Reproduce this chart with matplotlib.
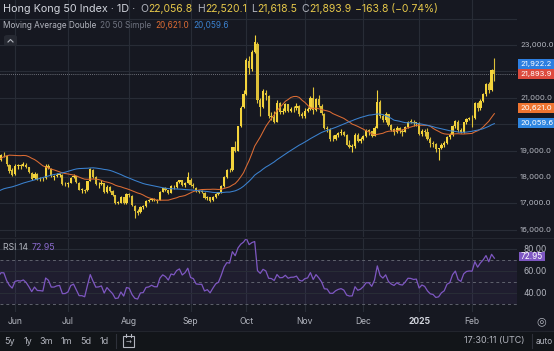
import matplotlib
matplotlib.use('Agg')
import matplotlib.pyplot as plt
import numpy as np
from matplotlib.patches import Rectangle, FancyBboxPatch
from matplotlib.lines import Line2D

W, H = 554, 351
BG = '#161821'
GRID = '#282c36'
TXT = '#b2b5be'
TXT_HI = '#d1d4dc'
YEL = '#f4d43c'
YEL_D = '#dcbf38'
HYEL = '#e6c84a'
ORANGE = '#dc6c34'
BLUE = '#3b82d0'
PURPLE = '#7e57c2'
FONT = ['Inter', 'DejaVu Sans']
plt.rcParams['font.family'] = FONT

# ------------------------------------------------------------------ data
# closes before the visible window (only feed the moving averages / RSI)
warmup_closes = [16590, 16596, 16162, 16438, 16230, 16353, 16588, 17093, 17082, 16962,
                 16721, 16738, 16529, 16543, 16863, 16499, 16474, 16618, 16393, 16541,
                 16541, 16931, 16725, 16724, 16733, 17139, 16828, 16721, 16600, 16248,
                 16249, 16386, 16511, 16829, 17201, 17285, 17651, 17746, 17763,
                 18207, 18476, 18578, 18479, 18313, 18537, 18964, 19115, 19073, 19376,
                 19553, 19636, 19220, 19195, 18868]

# (open, high, low, close)
ohlc_may = [(18870, 18900, 18560, 18609), (18650, 18880, 18600, 18827), (18830, 18960, 18760, 18821),
            (18800, 18820, 18420, 18477), (18450, 18500, 18150, 18230), (18250, 18330, 18030, 18079)]
ohlc_jun = [(18100, 18480, 18090, 18403), (18400, 18480, 18300, 18444), (18430, 18480, 18320, 18425),
            (18430, 18560, 18400, 18476), (18470, 18520, 18330, 18367), (18360, 18380, 18140, 18176),
            (18170, 18200, 17900, 17937), (17950, 18180, 17930, 18112), (18100, 18140, 17900, 17942),
            (17950, 18000, 17850, 17936), (17930, 18000, 17860, 17915), (17950, 18480, 17940, 18430),
            (18420, 18490, 18290, 18335), (18320, 18350, 18000, 18028), (18000, 18090, 17900, 18027),
            (18030, 18150, 18000, 18072), (18070, 18160, 18000, 18089), (18080, 18100, 17680, 17716),
            (17720, 17800, 17660, 17719)]
ohlc_jul = [(17720, 17820, 17640, 17769), (17780, 18000, 17760, 17979), (17990, 18100, 17950, 18028),
            (18020, 18040, 17780, 17799), (17780, 17800, 17500, 17524), (17520, 17600, 17400, 17523),
            (17520, 17560, 17410, 17471), (17500, 17850, 17480, 17832), (17850, 18330, 17840, 18293),
            (18250, 18300, 17960, 18015), (17990, 18020, 17700, 17727), (17720, 17800, 17600, 17739),
            (17750, 17900, 17700, 17778), (17760, 17780, 17380, 17417), (17430, 17680, 17400, 17635),
            (17640, 17660, 17430, 17469), (17460, 17500, 17290, 17311), (17300, 17310, 16970, 17005),
            (17010, 17100, 16960, 17021), (17030, 17280, 17020, 17238), (17230, 17240, 16980, 17002),
            (17010, 17380, 16990, 17344)]
ohlc_aug = [(17340, 17400, 17250, 17304), (17280, 17300, 16920, 16945), (16900, 16950, 16440, 16698),
            (16700, 16780, 16550, 16647), (16660, 16920, 16640, 16877), (16870, 16950, 16780, 16891),
            (16900, 17120, 16880, 17090), (17090, 17180, 17040, 17112), (17110, 17200, 17080, 17175),
            (17170, 17220, 17080, 17113), (17110, 17160, 17020, 17109), (17120, 17480, 17110, 17430),
            (17430, 17600, 17420, 17569), (17570, 17640, 17480, 17511), (17500, 17520, 17340, 17392),
            (17400, 17680, 17390, 17641), (17640, 17700, 17560, 17612), (17620, 17840, 17600, 17798),
            (17800, 17900, 17760, 17874), (17870, 17880, 17650, 17692), (17690, 17820, 17640, 17786),
            (17790, 18190, 17780, 17989)]
ohlc_sep = [(17900, 17950, 17650, 17691), (17690, 17760, 17600, 17652), (17600, 17620, 17420, 17457),
            (17460, 17520, 17380, 17444), (17450, 17500, 17380, 17444), (17400, 17420, 17150, 17196),
            (17200, 17280, 17130, 17234), (17230, 17260, 17050, 17108), (17110, 17280, 17090, 17240),
            (17240, 17400, 17220, 17369), (17370, 17450, 17330, 17422), (17420, 17680, 17400, 17660),
            (17660, 18050, 17640, 18013), (18010, 18300, 17980, 18258), (18260, 18330, 18180, 18247),
            (18250, 19150, 18240, 19129), (19150, 19350, 18950, 19000), (19000, 19950, 18980, 19924),
            (19920, 20700, 19900, 20632), (20650, 21300, 20600, 21133)]
ohlc_oct = [(21150, 22500, 21100, 22443), (22400, 22600, 21900, 22114), (22100, 22800, 22000, 22737),
            (22750, 23380, 22700, 23100), (23050, 23100, 20800, 20926), (20930, 21000, 20300, 20637),
            (20640, 21350, 20600, 21252), (21200, 21300, 20900, 21093), (21080, 21100, 20250, 20318),
            (20300, 20450, 20150, 20286), (20290, 20500, 20050, 20079), (20100, 20900, 20080, 20804),
            (20800, 20850, 20400, 20478), (20480, 20600, 20400, 20498), (20500, 20800, 20450, 20760),
            (20750, 20780, 20450, 20489), (20490, 20650, 20450, 20590), (20600, 20700, 20450, 20599),
            (20600, 20800, 20550, 20701), (20700, 20720, 20300, 20381), (20380, 20450, 20250, 20317)]
ohlc_nov = [(20320, 20600, 20250, 20506), (20500, 20650, 20450, 20567), (20570, 21050, 20550, 21006),
            (21000, 21400, 20400, 20538), (20550, 21000, 20500, 20953), (20950, 21100, 20650, 20728),
            (20700, 20750, 20350, 20426), (20400, 20420, 19800, 19846), (19850, 19950, 19700, 19823),
            (19820, 19850, 19350, 19435), (19440, 19600, 19380, 19426), (19430, 19620, 19400, 19577),
            (19580, 19700, 19500, 19663), (19660, 19800, 19600, 19705), (19700, 19750, 19550, 19601),
            (19600, 19620, 19200, 19230), (19230, 19400, 19100, 19151), (19150, 19250, 18950, 19159),
            (19160, 19650, 19100, 19603), (19600, 19650, 19330, 19366), (19370, 19500, 19300, 19424)]
ohlc_dec = [(19430, 19600, 19400, 19551), (19550, 19800, 19500, 19746), (19750, 19800, 19600, 19742),
            (19740, 19760, 19500, 19560), (19560, 19950, 19540, 19865), (19870, 21300, 19850, 20850),
            (20850, 20900, 20250, 20311), (20310, 20400, 20100, 20155), (20160, 20450, 20100, 20397),
            (20390, 20400, 19950, 19971), (19970, 20000, 19750, 19795), (19800, 19850, 19600, 19700),
            (19700, 19950, 19680, 19864), (19860, 19880, 19650, 19753), (19750, 19800, 19550, 19721),
            (19720, 19950, 19700, 19883), (19880, 20120, 19870, 20099), (20100, 20200, 20050, 20090),
            (20090, 20150, 19950, 20041), (20040, 20100, 19950, 20060)]
ohlc_jan = [(20050, 20100, 19600, 19623), (19620, 19800, 19550, 19760), (19760, 19800, 19550, 19688),
            (19690, 19850, 19400, 19448), (19450, 19500, 19150, 19280), (19280, 19350, 19150, 19240),
            (19240, 19300, 18950, 19064), (19060, 19100, 18650, 19086), (19090, 19300, 19050, 19219),
            (19220, 19350, 19150, 19286), (19290, 19550, 19250, 19523), (19520, 19650, 19450, 19584),
            (19590, 19980, 19570, 19926), (19930, 20150, 19850, 20107), (20100, 20150, 19700, 19778),
            (19780, 19850, 19650, 19700), (19700, 20100, 19680, 20066), (20070, 20250, 20000, 20198),
            (20200, 20280, 20150, 20225)]
ohlc_feb = [(20220, 20350, 19900, 20217), (20220, 20850, 20200, 20790), (20790, 20850, 20500, 20597),
            (20600, 20950, 20550, 20891), (20890, 21200, 20850, 21133), (21130, 21550, 21050, 21522),
            (21520, 21600, 21200, 21294), (21300, 22100, 21250, 22057.7),
            (22056.8, 22520.1, 21618.5, 21893.9)]

month_labels = ['Jun', 'Jul', 'Aug', 'Sep', 'Oct', 'Nov', 'Dec', '2025', 'Feb']
price_ticks = [16000, 17000, 18000, 19000, 21000, 23000]
rsi_ticks = [80, 60, 40]
ask_price = 21922.2
ma_fast_value = 20621.0
ma_slow_value = 20059.6
rsi_value = 72.95
range_buttons = ['5y', '1y', '3m', '1m', '5d', '1d']

# ------------------------------------------------------------------ prep
blocks = [ohlc_jun, ohlc_jul, ohlc_aug, ohlc_sep, ohlc_oct, ohlc_nov, ohlc_dec, ohlc_jan, ohlc_feb]
bars = ohlc_may + [b for blk in blocks for b in blk]
o = np.array([b[0] for b in bars], float)
hi = np.array([b[1] for b in bars], float)
lo = np.array([b[2] for b in bars], float)
c = np.array([b[3] for b in bars], float)
n0 = len(warmup_closes)
xb = np.arange(n0, n0 + len(bars))
closes_all = np.concatenate([np.array(warmup_closes, float), c])
N = len(closes_all)
J = n0 + len(ohlc_may)
month_starts = J + np.cumsum([0] + [len(b) for b in blocks[:-1]])


def sma(a, n):
    out = np.full(len(a), np.nan)
    cs = np.cumsum(np.insert(a, 0, 0.0))
    out[n - 1:] = (cs[n:] - cs[:-n]) / n
    return out


def rsi(a, n=14):
    d = np.diff(a)
    up = np.clip(d, 0, None)
    dn = np.clip(-d, 0, None)
    out = np.full(len(a), np.nan)
    au, ad = up[:n].mean(), dn[:n].mean()
    out[n] = 100 - 100 / (1 + au / ad)
    for i in range(n, len(d)):
        au = (au * (n - 1) + up[i]) / n
        ad = (ad * (n - 1) + dn[i]) / n
        out[i + 1] = 100 - 100 / (1 + au / ad) if ad > 0 else 100
    return out


ma20 = sma(closes_all, 20)
ma50 = sma(closes_all, 50)
rsi14 = rsi(closes_all, 14)

# ------------------------------------------------------------------ figure
fig = plt.figure(figsize=(W / 100, H / 100), dpi=100)
fig.patch.set_facecolor(BG)


def fy(ypx):
    return 1 - ypx / H


px_per_bar = 2.787
xlim = (J - 15 / px_per_bar, J + (517 - 15) / px_per_bar)

ax = fig.add_axes([0, fy(237), 517 / W, 237 / H])
axr = fig.add_axes([0, fy(312), 517 / W, 74 / H])
for a in (ax, axr):
    a.set_facecolor(BG)
    a.set_xticks([])
    a.set_yticks([])
    for s in a.spines.values():
        s.set_visible(False)
    a.set_xlim(*xlim)
ax.set_ylim(15727.3, 24704.5)
axr.set_ylim(22.73, 90.0)

# grid
for p in range(16000, 24001, 1000):
    ax.axhline(p, color=GRID, lw=0.8, zorder=0)
for m in month_starts:
    ax.axvline(m, color=GRID, lw=0.8, zorder=0)
    axr.axvline(m, color=GRID, lw=0.8, zorder=0)

# candles
up = c >= o
cols = np.where(up, YEL, YEL_D)
ax.vlines(xb, lo, hi, colors=cols, lw=0.8, zorder=3)
ax.bar(xb, np.maximum(np.abs(c - o), 25), bottom=np.minimum(o, c), width=0.8,
       color=cols, linewidth=0, zorder=4)

# moving averages
xa = np.arange(N)
ax.plot(xa, ma20, color=ORANGE, lw=0.75, zorder=5)
ax.plot(xa, ma50, color=BLUE, lw=0.75, zorder=5)

# last price dotted line
ax.axhline(c[-1], color='#8a8d96', lw=0.6, ls=(0, (1, 1.5)), zorder=1)

# RSI pane
axr.axhspan(30, 70, color=PURPLE, alpha=0.09, lw=0, zorder=0)
for v in rsi_ticks:
    axr.axhline(v, color=GRID, lw=0.8, zorder=0)
for v in (70, 50, 30):
    axr.axhline(v, color='#5f626d', lw=0.7, ls=(0, (3, 3)), zorder=1)
axr.plot(xa, rsi14, color=PURPLE, lw=0.9, zorder=3)

# pane separator
fig.add_artist(Line2D([0, 1], [fy(237.5), fy(237.5)], transform=fig.transFigure, color='#23262f', lw=0.8))


# ------------------------------------------------------------------ helpers
def ftext(xp, yp, s, color=TXT, size=6, ha='left', weight='normal', family=None):
    kw = {}
    if family:
        kw['family'] = family
    return fig.text(xp / W, fy(yp), s, color=color, fontsize=size, ha=ha, va='center',
                    fontweight=weight, **kw)


renderer = fig.canvas.get_renderer()


def chain(xp, yp, parts, size):
    for s, color, gap in parts:
        t = ftext(xp, yp, s, color, size)
        xp += t.get_window_extent(renderer).width + gap
    return xp


def rect_px(x0, y0, x1, y1, color, **kw):
    r = Rectangle((x0 / W, fy(y1)), (x1 - x0) / W, (y1 - y0) / H, transform=fig.transFigure,
                  facecolor=color, edgecolor='none', **kw)
    fig.add_artist(r)
    return r


def ypix(axis, v):
    return H - axis.transData.transform((0, v))[1]


def xpix(axis, v):
    return axis.transData.transform((v, 0))[0]


# header
chain(3, 9, [('Hong Kong 50 Index · 1D ·', TXT_HI, 0)], 7.8)
chg = c[-1] - c[-2]
pct = chg / c[-2] * 100
chain(140, 9, [('O', TXT, 0.6), (f'{o[-1]:,.1f}', HYEL, 4),
               ('H', TXT, 0.6), (f'{hi[-1]:,.1f}', HYEL, 4),
               ('L', TXT, 0.6), (f'{lo[-1]:,.1f}', HYEL, 4),
               ('C', TXT, 0.6), (f'{c[-1]:,.1f}', HYEL, 4),
               (f'{chg:,.1f} ({pct:.2f}%)'.replace('-', '−'), HYEL, 0)], 7.5)
chain(3, 25, [('Moving Average Double', TXT, 3.5), ('20 50 Simple', '#6f7380', 4),
              (f'{ma_fast_value:,.1f}', ORANGE, 4), (f'{ma_slow_value:,.1f}', BLUE, 0)], 5.9)

# collapse button
fig.add_artist(FancyBboxPatch((4 / W, fy(46)), 13 / W, 11 / H, boxstyle='round,pad=0,rounding_size=0.006',
                              transform=fig.transFigure, facecolor='#262932', edgecolor='none'))
fig.add_artist(Line2D([8 / W, 10.5 / W, 13 / W], [fy(42), fy(39.5), fy(42)], transform=fig.transFigure,
                      color=TXT, lw=0.8))

# right price scale labels
for p in price_ticks:
    ftext(520, ypix(ax, p), f'{p:,.1f}', TXT, 5.5)


def tag(yc, s, color, x0=518, x1=556, hgt=10, tx=520):
    rect_px(x0, yc - hgt / 2, x1, yc + hgt / 2, color)
    ftext(tx, yc, s, 'white', 5.5)


y_last = ypix(ax, c[-1])
tag(y_last - 10.5, f'{ask_price:,.1f}', '#2d7ee0')
tag(y_last, f'{c[-1]:,.1f}', '#dc4a3e')
tag(ypix(ax, ma_fast_value), f'{ma_fast_value:,.1f}', '#ee7430')
tag(ypix(ax, ma_slow_value), f'{ma_slow_value:,.1f}', '#2f86e0')

# RSI labels
chain(3, 247, [('RSI 14', TXT, 4), (f'{rsi_value:.2f}', '#8c6bd0', 0)], 6.3)
for v in rsi_ticks:
    ftext(524, ypix(axr, v), f'{v:.2f}', TXT, 6)
yr = ypix(axr, rsi_value)
rect_px(519, yr - 4.5, 545, yr + 4.5, PURPLE)
ftext(532, yr, f'{rsi_value:.2f}', 'white', 6, ha='center')

# time axis labels
for m, lab in zip(month_starts, month_labels):
    bold = lab.isdigit()
    ftext(xpix(ax, m), 321, lab, TXT_HI if bold else TXT, 6.2, ha='center',
          weight='bold' if bold else 'normal')
ftext(541, 321, '◎', TXT, 8, ha='center', family='DejaVu Sans')

# bottom toolbar
rect_px(0, 331, W, H + 1, '#121519')
fig.add_artist(Line2D([0, 1], [fy(331), fy(331)], transform=fig.transFigure, color='#22252d', lw=0.8))
for lab, xc in zip(range_buttons, [10, 27.5, 46, 66, 86, 104]):
    ftext(xc, 341, lab, TXT, 6.5, ha='center')
for xs in (116, 532):
    fig.add_artist(Line2D([xs / W, xs / W], [fy(334), fy(348)], transform=fig.transFigure,
                          color='#2e313a', lw=0.8))
fig.add_artist(Rectangle((123 / W, fy(347)), 11 / W, 11 / H, transform=fig.transFigure,
                         facecolor='none', edgecolor=TXT, lw=0.8))
for xs in (126, 131):
    fig.add_artist(Line2D([xs / W, xs / W], [fy(334), fy(337)], transform=fig.transFigure,
                          color=TXT, lw=0.8))
ftext(128.5, 342.5, '→', TXT, 5, ha='center', family='DejaVu Sans')
ftext(525, 341, '17:30:11 (UTC)', TXT, 6.5, ha='right')
ftext(536, 341, 'auto', TXT, 6.0)

fig.savefig('out.png', dpi=100, facecolor=BG)
